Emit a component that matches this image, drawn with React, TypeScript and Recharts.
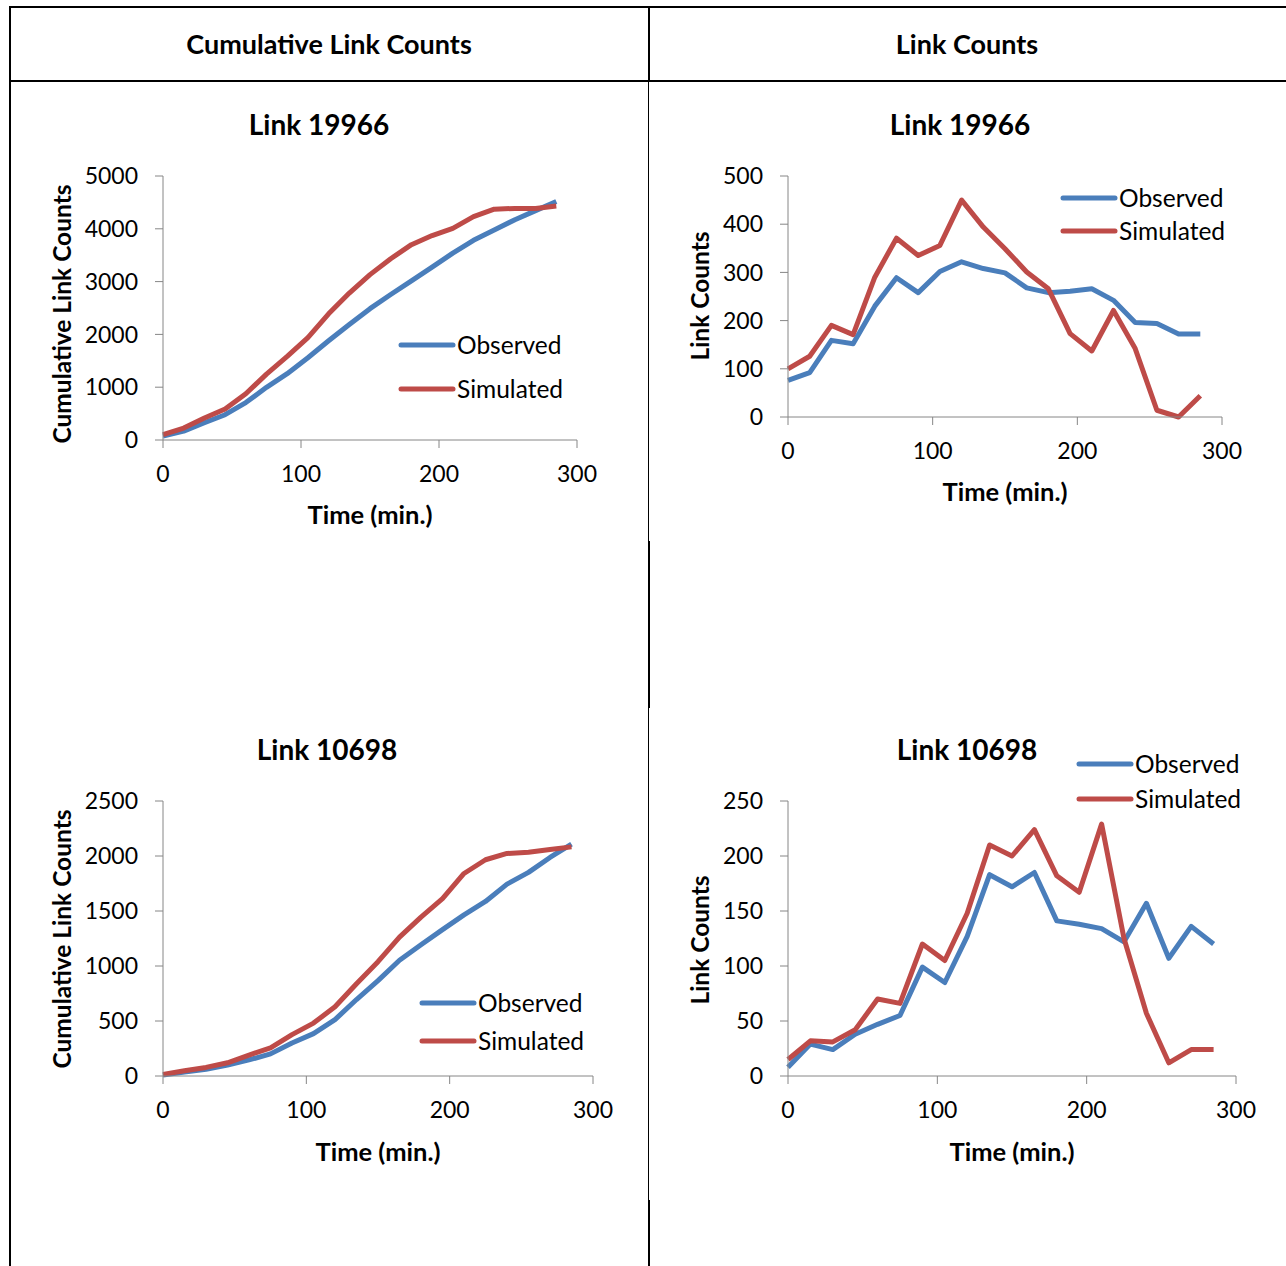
import React from 'react';
import { LineChart, Line, XAxis, YAxis, Legend } from 'recharts';

// ---- data (time in minutes, 15-minute intervals) ----
const timeMin = [0, 15, 30, 45, 60, 75, 90, 105, 120, 135, 150, 165, 180, 195, 210, 225, 240, 255, 270, 285];

const cumObserved19966 = [76, 168, 327, 479, 709, 998, 1256, 1558, 1880, 2188, 2487, 2755, 3013, 3274, 3540, 3782, 3978, 4172, 4344, 4516];
const cumSimulated19966 = [100, 226, 416, 587, 877, 1248, 1583, 1939, 2389, 2783, 3132, 3433, 3699, 3872, 4009, 4230, 4372, 4386, 4386, 4430];
const observed19966 = [76, 92, 159, 152, 230, 289, 258, 302, 322, 308, 299, 268, 258, 261, 266, 242, 196, 194, 172, 172];
const simulated19966 = [100, 126, 190, 171, 290, 371, 335, 356, 450, 394, 349, 301, 266, 173, 137, 221, 142, 14, 0, 44];

const cumObserved10698 = [8, 37, 61, 99, 146, 201, 300, 385, 512, 695, 867, 1052, 1193, 1331, 1465, 1587, 1744, 1851, 1987, 2107];
const cumSimulated10698 = [15, 47, 78, 120, 190, 256, 376, 481, 629, 839, 1039, 1263, 1445, 1612, 1841, 1966, 2023, 2035, 2059, 2083];
const observed10698 = [8, 29, 24, 38, 47, 55, 99, 85, 127, 183, 172, 185, 141, 138, 134, 122, 157, 107, 136, 120];
const simulated10698 = [15, 32, 31, 42, 70, 66, 120, 105, 148, 210, 200, 224, 182, 167, 229, 125, 57, 12, 24, 24];

const xTicks = [0, 100, 200, 300];
const yTicksCum19966 = [0, 1000, 2000, 3000, 4000, 5000];
const yTicksCnt19966 = [0, 100, 200, 300, 400, 500];
const yTicksCum10698 = [0, 500, 1000, 1500, 2000, 2500];
const yTicksCnt10698 = [0, 50, 100, 150, 200, 250];

const columnHeaders = ['Cumulative Link Counts', 'Link Counts'];
const seriesNames = ['Observed', 'Simulated'];
const seriesColors = ['#4A7EBB', '#BE4B48'];

const FONT = "Lato, 'Open Sans', sans-serif";
const TICK_FS = 23;
const LEGEND_FS = 24.5;
const AXIS_TITLE_FS = 25.5;

const build = (obs: number[], sim: number[]) =>
  timeMin.map((t, i) => ({ t, obs: obs[i], sim: sim[i] }));

type Panel = {
  title: string;
  data: { t: number; obs: number; sim: number }[];
  yTicks: number[];
  yTitle: string;
  plot: { x1: number; y1: number; x2: number; y2: number };
  titleX: number;
  titleY: number;
  yTitleX: number;
  yTitleY: number;
  xTitleY: number;
  legend: { x: number; y: number; gap: number };
};

const panels: Panel[] = [
  {
    title: 'Link 19966', data: build(cumObserved19966, cumSimulated19966), yTicks: yTicksCum19966,
    yTitle: 'Cumulative Link Counts', plot: { x1: 163, y1: 176, x2: 577, y2: 440 },
    titleX: 319, titleY: 124, yTitleX: 62, yTitleY: 314, xTitleY: 515, legend: { x: 401, y: 345, gap: 44 },
  },
  {
    title: 'Link 19966', data: build(observed19966, simulated19966), yTicks: yTicksCnt19966,
    yTitle: 'Link Counts', plot: { x1: 788, y1: 176, x2: 1222, y2: 417 },
    titleX: 960, titleY: 124, yTitleX: 700, yTitleY: 296, xTitleY: 492, legend: { x: 1063, y: 198, gap: 33 },
  },
  {
    title: 'Link 10698', data: build(cumObserved10698, cumSimulated10698), yTicks: yTicksCum10698,
    yTitle: 'Cumulative Link Counts', plot: { x1: 163, y1: 801, x2: 593, y2: 1076 },
    titleX: 327, titleY: 749, yTitleX: 62, yTitleY: 939, xTitleY: 1152, legend: { x: 422, y: 1003, gap: 38 },
  },
  {
    title: 'Link 10698', data: build(observed10698, simulated10698), yTicks: yTicksCnt10698,
    yTitle: 'Link Counts', plot: { x1: 788, y1: 801, x2: 1236, y2: 1076 },
    titleX: 967, titleY: 749, yTitleX: 700, yTitleY: 940, xTitleY: 1152, legend: { x: 1079, y: 764, gap: 35 },
  },
];

const PAD_L = 120;
const PAD_T = 20;
const PAD_R = 40;
const PAD_B = 60;

const abs = (left: number, top: number, extra: React.CSSProperties = {}): React.CSSProperties => ({
  position: 'absolute', left, top, ...extra,
});

function LegendBox({ payload, gap }: { payload?: any[]; gap: number }) {
  return (
    <div>
      {(payload || []).map((p: any) => (
        <div key={p.value} style={{ height: gap, display: 'flex', alignItems: 'center', whiteSpace: 'nowrap' }}>
          <svg width={58} height={10} style={{ display: 'block' }}>
            <line x1={3} y1={5} x2={55} y2={5} stroke={p.color} strokeWidth={5} strokeLinecap="round" />
          </svg>
          <span style={{ fontFamily: FONT, fontSize: LEGEND_FS, color: '#000', marginLeft: 1, lineHeight: 1 }}>{p.value}</span>
        </div>
      ))}
    </div>
  );
}

function ChartPanel({ p }: { p: Panel }) {
  const { x1, y1, x2, y2 } = p.plot;
  const left = x1 - PAD_L;
  const top = y1 - PAD_T;
  const w = x2 - x1 + PAD_L + PAD_R;
  const h = y2 - y1 + PAD_T + PAD_B;
  const yMax = p.yTicks[p.yTicks.length - 1];
  return (
    <>
      <div style={abs(p.titleX, p.titleY, { transform: 'translate(-50%,-50%)', fontFamily: FONT, fontWeight: 700, fontSize: 28, whiteSpace: 'nowrap', lineHeight: 1 })}>
        {p.title}
      </div>
      <div style={abs(p.yTitleX, p.yTitleY, { transform: 'translate(-50%,-50%) rotate(-90deg)', fontFamily: FONT, fontWeight: 700, fontSize: 24.5, whiteSpace: 'nowrap', lineHeight: 1 })}>
        {p.yTitle}
      </div>
      <div style={abs((x1 + x2) / 2, p.xTitleY, { transform: 'translate(-50%,-50%)', fontFamily: FONT, fontWeight: 700, fontSize: AXIS_TITLE_FS, whiteSpace: 'nowrap', lineHeight: 1 })}>
        Time (min.)
      </div>
      <div style={abs(left, top)}>
        <LineChart width={w} height={h} data={p.data} margin={{ top: PAD_T, right: PAD_R, left: 0, bottom: 0 }}>
          <XAxis
            dataKey="t" type="number" domain={[0, 300]} ticks={xTicks} interval={0} height={PAD_B}
            stroke="#868686" tickSize={8} tickMargin={18}
            tick={{ fill: '#000', fontSize: TICK_FS, fontFamily: FONT }}
          />
          <YAxis
            type="number" domain={[0, yMax]} ticks={p.yTicks} interval={0} width={PAD_L}
            stroke="#868686" tickSize={8} tickMargin={17}
            tick={{ fill: '#000', fontSize: TICK_FS, fontFamily: FONT }}
          />
          <Line dataKey="obs" name={seriesNames[0]} stroke={seriesColors[0]} strokeWidth={5} dot={false} isAnimationActive={false} strokeLinejoin="round" />
          <Line dataKey="sim" name={seriesNames[1]} stroke={seriesColors[1]} strokeWidth={5} dot={false} isAnimationActive={false} strokeLinejoin="round" />
          <Legend
            layout="vertical" align="center" verticalAlign="middle"
            wrapperStyle={{ left: p.legend.x - left - 3, top: p.legend.y - top - p.legend.gap / 2, width: 'auto', height: 'auto' }}
            content={(props: any) => <LegendBox payload={props.payload} gap={p.legend.gap} />}
          />
        </LineChart>
      </div>
    </>
  );
}

export default function App() {
  return (
    <div style={{ position: 'absolute', left: 0, top: 0, width: 1286, height: 1266, background: '#fff', overflow: 'hidden' }}>
      {/* table lines */}
      <div style={abs(10, 6, { width: 1276, height: 2, background: '#000' })} />
      <div style={abs(10, 80, { width: 1276, height: 2, background: '#000' })} />
      <div style={abs(9, 6, { width: 2, height: 1260, background: '#000' })} />
      <div style={abs(648, 6, { width: 2, height: 76, background: '#000' })} />
      <div style={abs(648, 82, { width: 1, height: 1184, background: '#000' })} />
      <div style={abs(648, 541, { width: 2, height: 167, background: '#000' })} />
      <div style={abs(648, 1200, { width: 2, height: 66, background: '#000' })} />
      {/* headers */}
      <div style={abs(329, 43, { transform: 'translate(-50%,-50%)', fontFamily: FONT, fontWeight: 700, fontSize: 27, whiteSpace: 'nowrap', lineHeight: 1 })}>
        {columnHeaders[0]}
      </div>
      <div style={abs(967, 43, { transform: 'translate(-50%,-50%)', fontFamily: FONT, fontWeight: 700, fontSize: 27, whiteSpace: 'nowrap', lineHeight: 1 })}>
        {columnHeaders[1]}
      </div>
      {panels.map((p, i) => <ChartPanel key={i} p={p} />)}
    </div>
  );
}
